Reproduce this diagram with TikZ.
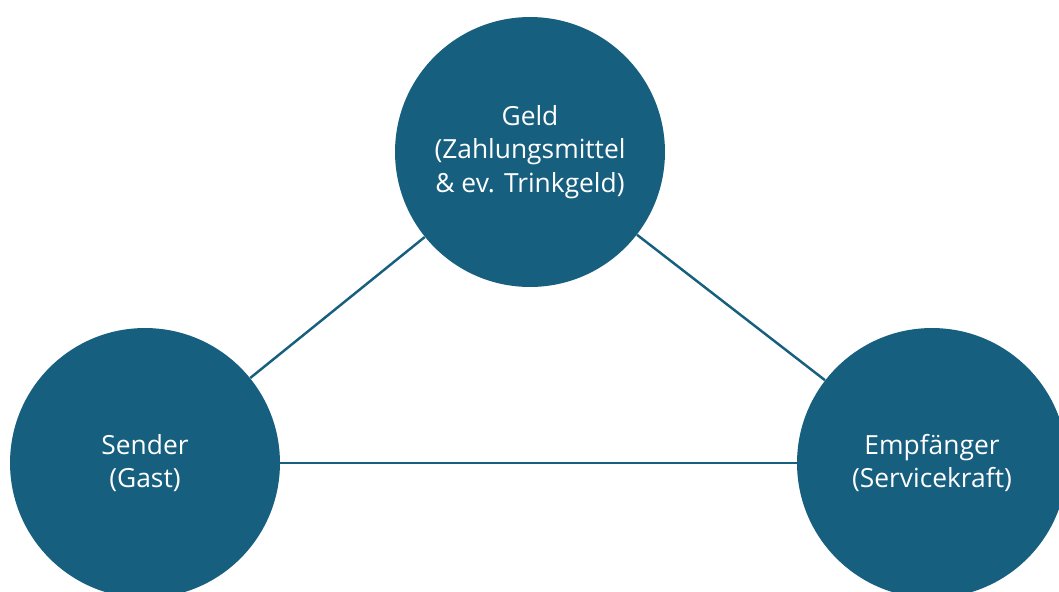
\documentclass[tikz,border=0pt]{standalone}
\usepackage{fontspec}
\setmainfont{Open Sans}
\usepackage{tikz}
\definecolor{bleu}{RGB}{23,95,127}

\begin{document}
\begin{tikzpicture}[x=0.02cm,y=-0.02cm]
	\tikzstyle{cercle}=[circle,fill=bleu,text=white,minimum size=5.4cm,inner sep=0pt,align=center,font=\fontsize{15}{19}\selectfont]
	\tikzstyle{lien}=[draw=bleu,line width=1.4pt]
	\useasboundingbox (0,0) rectangle (1059,592);
	\node[cercle] (G) at (530,152){Geld\\(Zahlungsmittel\\\& ev. Trinkgeld)};
	\node[cercle] (S) at (145,463){Sender\\(Gast)};
	\node[cercle] (E) at (932,463){Empfänger\\(Servicekraft)};
	\draw[lien] (S) -- (G);
	\draw[lien] (G) -- (E);
	\draw[lien] (S) -- (E);
\end{tikzpicture}
\end{document}
